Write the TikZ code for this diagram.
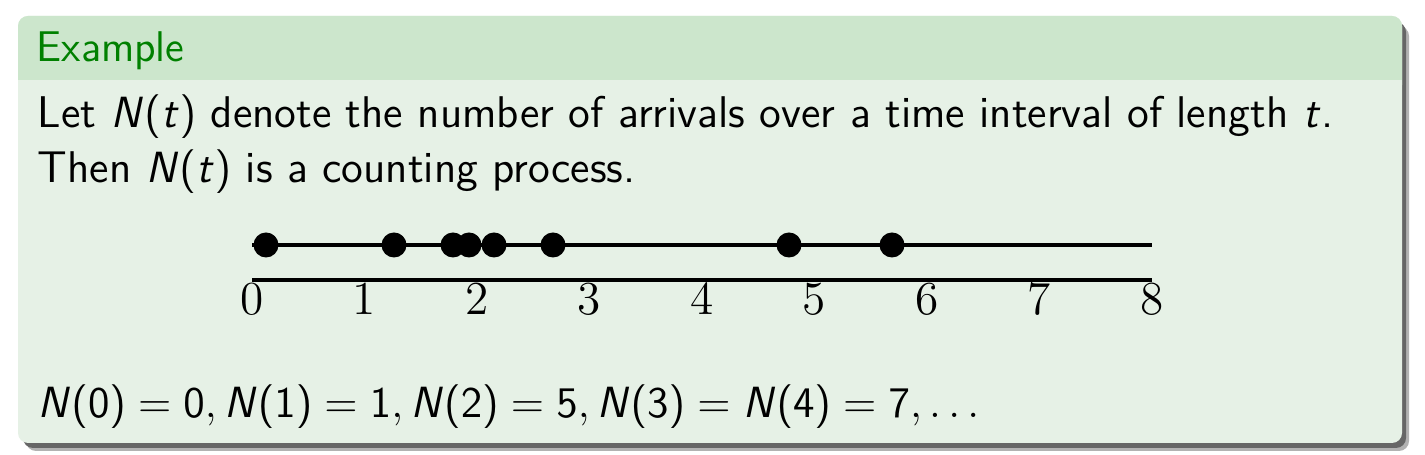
\documentclass[tikz,border=0pt]{standalone}
\usepackage{tikz}
\renewcommand{\familydefault}{\sfdefault}
% sans serif math, as in a beamer slide
\DeclareSymbolFont{sfletters}{OT1}{cmss}{m}{sl}
\SetSymbolFont{operators}{normal}{OT1}{cmss}{m}{n}
\DeclareMathSymbol{N}{\mathalpha}{sfletters}{`N}
\DeclareMathSymbol{t}{\mathalpha}{sfletters}{`t}

\definecolor{exgreen}{RGB}{0,128,0}
\definecolor{extitlebg}{RGB}{204,230,204}
\definecolor{exbodybg}{RGB}{230,241,230}

\tikzset{
  txt/.style={anchor=base west, inner sep=0pt, font=\fontsize{12.2}{15}\selectfont},
  titletxt/.style={txt, font=\fontsize{11.8}{14}\selectfont, text=exgreen},
  mathtxt/.style={txt, font=\fontsize{13}{16}\selectfont},
  ticklab/.style={anchor=base, inner sep=0pt, font=\rmfamily\fontsize{13}{16}\selectfont},
  axisline/.style={line width=0.9pt},
}

\begin{document}
\begin{tikzpicture}[x=0.2747pt, y=-0.2747pt]
  \useasboundingbox (0,0) rectangle (1425,455);
  \fill[white] (0,0) rectangle (1425,455);

  % Schatten und Block
  \fill[black!30, rounded corners=2.75pt] (26,26) rectangle (1409,451);
  \fill[black!60, rounded corners=2.75pt] (23,22) rectangle (1406,448);
  \fill[exbodybg, rounded corners=2.75pt] (18,16) rectangle (1402,443);
  \fill[extitlebg, rounded corners=2.75pt] (18,16) rectangle (1402,95);
  \fill[exbodybg] (18,80) rectangle (1402,95);

  % Texte
  \node[titletxt] (title) at (36,62) {Example};
  \node[txt] (line1) at (37,128) {Let $N(t)$ denote the number of arrivals over a time interval of length $t$.};
  \node[txt] (line2) at (37,183) {Then $N(t)$ is a counting process.};
  \node[mathtxt] (counts) at (37,418) {$N(0) = 0, N(1) = 1, N(2) = 5, N(3) = N(4) = 7, \dots$};

  % Ankuenfte und Zeitachse
  \coordinate (arrL) at (252,245);
  \coordinate (arrR) at (1152,245);
  \coordinate (axL) at (252,280);
  \coordinate (axR) at (1152,280);
  \draw[axisline] (arrL) -- (arrR);
  \draw[axisline] (axL) -- (axR);
  \foreach \x in {266,394,453,469,494,553,789,892}
    \fill (\x,245) circle (12.5);
  \foreach \k in {0,...,8}
    \node[ticklab] (tick\k) at ({252+112.5*\k},315) {\k};
\end{tikzpicture}
\end{document}
